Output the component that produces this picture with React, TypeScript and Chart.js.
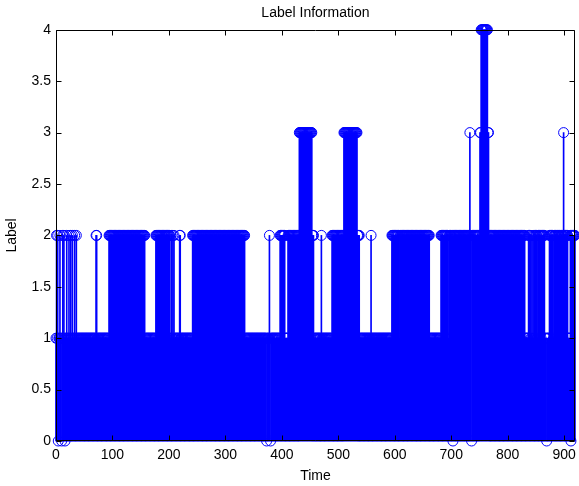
import React, { useEffect, useRef } from 'react';
import { Chart, registerables } from 'chart.js';

Chart.register(...registerables);

// Time axis range and tick labels
const timeStart = 0;
const timeEnd = 919;
const xTicks = [0, 100, 200, 300, 400, 500, 600, 700, 800, 900];
const yTicks = [0, 0.5, 1, 1.5, 2, 2.5, 3, 3.5, 4];

// Label readings (default label is 1); runs are [firstTime, lastTime]
const labelTwoRuns: [number, number][] = [
  [1, 1], [3, 3], [7, 7], [12, 12], [14, 14], [19, 19], [23, 23], [26, 26], [29, 29], [33, 33], [36, 36],
  [71, 72], [94, 157], [177, 201], [204, 204], [207, 207], [209, 209], [219, 220],
  [242, 334], [378, 378], [397, 405], [411, 456], [470, 470], [489, 537], [558, 558],
  [595, 661], [682, 919],
];
const labelOneGaps: [number, number][] = [
  [608, 608], [611, 611], [695, 695], [701, 701], [831, 836], [840, 840], [842, 842], [844, 844],
  [846, 846], [848, 848], [853, 853], [859, 859], [866, 868], [870, 873], [881, 881], [887, 887],
  [893, 893], [907, 910],
];
const labelThreeRuns: [number, number][] = [
  [431, 453], [510, 533], [733, 733], [751, 752], [765, 766], [899, 899],
];
const labelFourRuns: [number, number][] = [[753, 764]];
const labelZeroTimes = [4, 10, 16, 373, 380, 703, 736, 869, 912];

function buildLabels(): { x: number; y: number }[] {
  const vals: number[] = [];
  for (let t = timeStart; t <= timeEnd; t++) vals.push(1);
  const apply = (runs: [number, number][], v: number) => {
    runs.forEach(([a, b]) => {
      for (let t = a; t <= b; t++) vals[t - timeStart] = v;
    });
  };
  apply(labelTwoRuns, 2);
  apply(labelOneGaps, 1);
  apply(labelThreeRuns, 3);
  apply(labelFourRuns, 4);
  labelZeroTimes.forEach((t) => (vals[t - timeStart] = 0));
  return vals.map((y, i) => ({ x: timeStart + i, y }));
}

const BLUE = '#0000ff';
const FONT = "'Liberation Sans', Arial, Helvetica, sans-serif";

const matlabAxes = {
  id: 'matlabAxes',
  afterDraw(chart: any) {
    const { ctx, chartArea: a, scales } = chart;
    const L = Math.round(a.left) + 0.5;
    const R = Math.round(a.right) - 0.5;
    const T = Math.round(a.top) + 0.5;
    const B = Math.round(a.bottom) - 0.5;
    ctx.save();
    ctx.strokeStyle = '#000';
    ctx.lineWidth = 1;
    ctx.beginPath();
    ctx.rect(L, T, R - L, B - T);
    const tl = 5;
    xTicks.forEach((v) => {
      const px = Math.round(scales.x.getPixelForValue(v)) + 0.5;
      ctx.moveTo(px, B);
      ctx.lineTo(px, B - tl);
      ctx.moveTo(px, T);
      ctx.lineTo(px, T + tl);
    });
    yTicks.forEach((v) => {
      const py = Math.round(scales.y.getPixelForValue(v)) + 0.5;
      ctx.moveTo(L, py);
      ctx.lineTo(L + tl, py);
      ctx.moveTo(R, py);
      ctx.lineTo(R - tl, py);
    });
    ctx.stroke();
    ctx.restore();
  },
};

export default function App() {
  const ref = useRef<HTMLCanvasElement | null>(null);
  useEffect(() => {
    document.body.style.margin = '0';
    const points = buildLabels();
    const chart = new Chart(ref.current as HTMLCanvasElement, {
      type: 'bar',
      data: {
        datasets: [
          {
            type: 'bar',
            data: points as any,
            backgroundColor: BLUE,
            borderWidth: 0,
            barThickness: 1,
            clip: false as any,
            order: 2,
          } as any,
          {
            type: 'scatter',
            data: points as any,
            showLine: false,
            pointStyle: 'circle',
            pointRadius: 5,
            pointBorderWidth: 1,
            pointBorderColor: BLUE,
            pointBackgroundColor: 'rgba(0,0,0,0)',
            clip: false as any,
            order: 1,
          } as any,
        ],
      },
      options: {
        responsive: false,
        animation: false,
        events: [],
        layout: { padding: { left: 0, right: 0, top: 0, bottom: 0 } },
        plugins: {
          legend: { display: false },
          tooltip: { enabled: false },
          title: {
            display: true,
            fullSize: false,
            text: 'Label Information',
            color: '#000',
            font: { family: FONT, size: 14, weight: 'normal' },
            padding: { top: 5, bottom: 8 },
          },
        },
        scales: {
          x: {
            type: 'linear',
            min: timeStart,
            max: timeEnd,
            offset: false,
            grid: { display: false, drawTicks: false },
            border: { display: false },
            afterBuildTicks: (s: any) => {
              s.ticks = xTicks.map((v) => ({ value: v }));
            },
            afterFit: (s: any) => {
              s.height = 45;
            },
            ticks: {
              color: '#000',
              font: { family: FONT, size: 14 },
              padding: 6,
              maxRotation: 0,
              autoSkip: false,
              callback: (v: any) => String(v),
            },
            title: {
              display: true,
              text: 'Time',
              color: '#000',
              font: { family: FONT, size: 14 },
              padding: { top: 0, bottom: 1 },
            },
          },
          y: {
            type: 'linear',
            min: 0,
            max: 4,
            grid: { display: false, drawTicks: false },
            border: { display: false },
            afterBuildTicks: (s: any) => {
              s.ticks = yTicks.map((v) => ({ value: v }));
            },
            afterFit: (s: any) => {
              s.width = 56;
            },
            ticks: {
              color: '#000',
              font: { family: FONT, size: 14 },
              padding: 5,
              autoSkip: false,
              callback: (v: any) => String(v),
            },
            title: {
              display: true,
              text: 'Label',
              color: '#000',
              font: { family: FONT, size: 14 },
              padding: { top: 4, bottom: 0 },
            },
          },
        },
      } as any,
      plugins: [matlabAxes],
    });
    return () => chart.destroy();
  }, []);
  return (
    <div style={{ width: 579, height: 486, overflow: 'hidden' }}>
      <canvas ref={ref} width={582} height={486} style={{ display: 'block' }} />
    </div>
  );
}
